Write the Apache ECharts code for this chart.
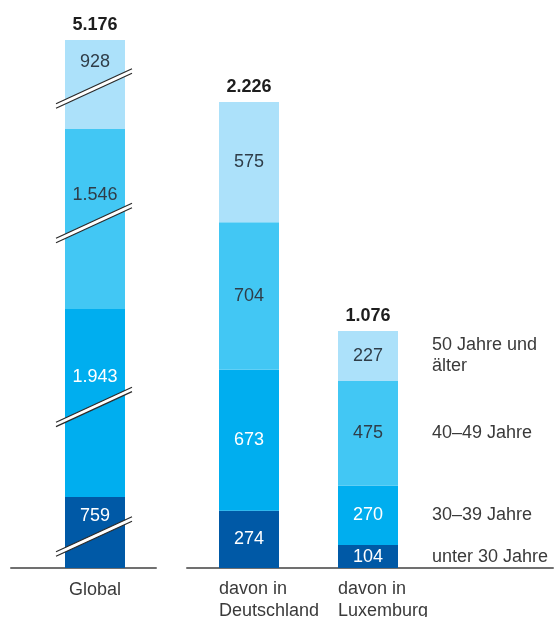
<!DOCTYPE html>
<html>
<head>
<meta charset="utf-8">
<script src="https://cdn.jsdelivr.net/npm/echarts@6/dist/echarts.min.js"></script>
<style>html,body{margin:0;padding:0;background:#fff}#chart{width:555px;height:617px}</style>
</head>
<body>
<div id="chart"></div>
<script>
// ---- data ----
const categories = ['Global', 'davon in\nDeutschland', 'davon in\nLuxemburg'];
const ageGroups = ['unter 30 Jahre', '30–39 Jahre', '40–49 Jahre', '50 Jahre und\nälter'];
const under30 = [759, 274, 104];
const age30to39 = [1943, 673, 270];
const age40to49 = [1546, 704, 475];
const age50plus = [928, 575, 227];
const totals = [5176, 2226, 1076];

// ---- style ----
const segments = [under30, age30to39, age40to49, age50plus];
const colors = ['#0059a6', '#00aeef', '#42c7f4', '#ace1fa'];
const labelColors = ['#ffffff', '#ffffff', '#2f3d48', '#2f3d48'];
// share of each Global segment that stays visible after its axis break (the Global column is drawn shortened)
const globalKeep = [0.468, 0.484, 0.582, 0.48];
// vertical label shift inside the shortened Global segments (labels sit above the break marks)
const globalLabelShift = [-16, -26, -24, -22];
const FONT = '"Liberation Sans", Arial, sans-serif';
const TEXT = '#3a3a3a';
const fmt = v => String(v).replace(/\B(?=(\d{3})+(?!\d))/g, '.');

let acc = 0;
const globalBreaks = segments.map((arr, i) => {
  const v = arr[0];
  const mid = acc + v / 2;
  const cut = v * (1 - globalKeep[i]);
  acc += v;
  return { start: mid - cut / 2, end: mid + cut / 2, gap: 0 };
});

const grids = [
  { left: 11, width: 145, top: 40, height: 528 },
  { left: 187, width: 366, top: 40, height: 528 },
  { left: 35, width: 120, top: 40, height: 528 },
  { left: 189, width: 120, top: 102, height: 466 },
  { left: 308, width: 120, top: 331, height: 237 }
].map(g => Object.assign({ outerBoundsMode: 'none', containLabel: false }, g));

const xAxes = [0, 1].map(g => ({
  type: 'value', gridIndex: g, min: 0, max: 1,
  axisLine: { show: true, onZero: false, lineStyle: { color: '#707070', width: 2 } },
  axisTick: { show: false }, axisLabel: { show: false }, splitLine: { show: false }
}));
[0, 1, 2].forEach(k => {
  const leftAligned = k > 0;
  xAxes.push({
    type: 'category', gridIndex: k + 2, data: [categories[k]],
    axisLine: { show: false }, axisTick: { show: false }, splitLine: { show: false },
    axisLabel: leftAligned ? {
      margin: 10,
      formatter: v => v.split('\n').map(s => '{l|' + s + '}').join('\n'),
      rich: { l: { width: 60, align: 'left', fontSize: 18, lineHeight: 22, fontFamily: FONT, color: TEXT } }
    } : { margin: 11, fontSize: 18, lineHeight: 22, fontFamily: FONT, color: TEXT }
  });
});

const yAxes = [0, 1].map(g => ({ type: 'value', gridIndex: g, min: 0, max: 1, show: false }));
[0, 1, 2].forEach(k => {
  const ax = { type: 'value', gridIndex: k + 2, min: 0, max: 'dataMax', show: false, splitLine: { show: false } };
  if (k === 0) { ax.breaks = globalBreaks; ax.breakArea = { show: false }; }
  yAxes.push(ax);
});

const series = [];
[0, 1, 2].forEach(k => {
  segments.forEach((arr, i) => {
    series.push({
      type: 'bar', name: ageGroups[i], xAxisIndex: k + 2, yAxisIndex: k + 2, stack: 's' + k,
      data: [arr[k]], barWidth: 60, itemStyle: { color: colors[i] },
      label: {
        show: true, position: 'inside', offset: k === 0 ? [0, globalLabelShift[i]] : [0, 0],
        color: labelColors[i], fontSize: 18, fontFamily: FONT,
        formatter: p => fmt(p.value)
      }
    });
  });
  series.push({
    type: 'bar', name: 'Gesamt', xAxisIndex: k + 2, yAxisIndex: k + 2, stack: 's' + k,
    data: [0], barWidth: 60, itemStyle: { color: 'transparent' },
    label: { show: true, position: 'top', distance: 6, color: '#1e1e1e', fontSize: 18, fontWeight: 'bold', fontFamily: FONT, formatter: () => fmt(totals[k]) }
  });
});
// age-group captions beside the Luxemburg column
segments.forEach((arr, i) => {
  series.push({
    type: 'bar', name: ageGroups[i] + ' (Legende)', xAxisIndex: 4, yAxisIndex: 4, stack: 'side',
    data: [arr[2]], barWidth: 60, barGap: '-100%', silent: true, itemStyle: { color: 'transparent' },
    label: { show: true, position: 'right', distance: 34, color: TEXT, fontSize: 18, lineHeight: 21, fontFamily: FONT, formatter: () => ageGroups[i] }
  });
});

const chart = echarts.init(document.getElementById('chart'), null, { renderer: 'canvas' });
chart.setOption({
  animation: false, backgroundColor: '#fff',
  grid: grids, xAxis: xAxes, yAxis: yAxes, series: series
});

const cx = chart.convertToPixel({ xAxisIndex: 2 }, categories[0]);
const marks = globalBreaks.map(b => {
  const py = chart.convertToPixel({ yAxisIndex: 2 }, b.start) + 4;
  return {
    type: 'group', x: cx - 1, y: py, z: 100, children: [
      { type: 'polygon', z: 100, shape: { points: [[-38, 15.3], [38, -19.7], [38, -15.3], [-38, 19.7]] }, style: { fill: '#fff' } },
      { type: 'line', z: 101, shape: { x1: -38, y1: 15.3, x2: 38, y2: -19.7 }, style: { stroke: '#2a2a2a', lineWidth: 1.2 } },
      { type: 'line', z: 101, shape: { x1: -38, y1: 19.7, x2: 38, y2: -15.3 }, style: { stroke: '#2a2a2a', lineWidth: 1.2 } }
    ]
  };
});
chart.setOption({ graphic: marks });
</script>
</body>
</html>
